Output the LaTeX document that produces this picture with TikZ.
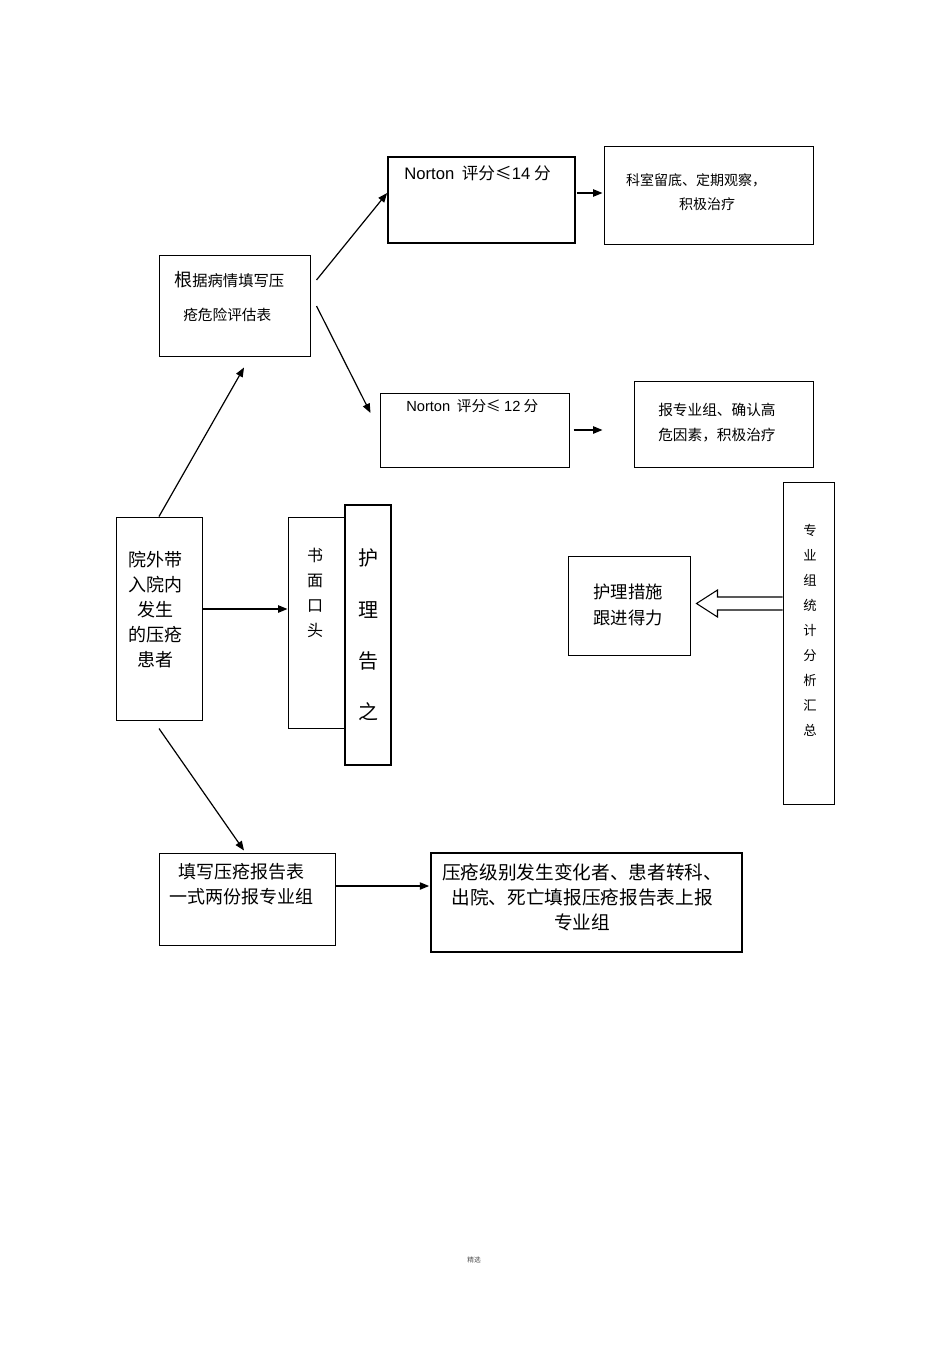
\documentclass[tikz,border=0pt]{standalone}
\usepackage{fontspec}
\setmainfont{Liberation Sans}
\newfontfamily\cjk{Noto Sans CJK SC}
\newfontfamily\lat{Liberation Sans}
\usetikzlibrary{arrows.meta,calc}

\begin{document}
\begin{tikzpicture}[x=0.75pt,y=-0.75pt,
  box/.style 2 args={draw,line width=0.75pt,inner sep=0pt,minimum width=#1*0.75pt,minimum height=#2*0.75pt},
  heavy/.style={line width=1.3pt},
  txt/.style={font=\cjk,inner sep=0pt},
  arr/.style={line width=0.9pt,-{Triangle[length=7pt,width=5.5pt]}}]
  \useasboundingbox (0,0) rectangle (950,1345);

  % boxes
  \node[box={151}{101}] (assess) at (234.5,305.5) {};
  \node[box={187}{86},heavy] (n14) at (481.5,200) {};
  \node[box={209}{98}] (r14) at (708.5,195) {};
  \node[box={189}{74}] (n12) at (474.5,430) {};
  \node[box={179}{86}] (r12) at (723.5,424) {};
  \node[box={86}{203}] (patient) at (159,618.5) {};
  \node[box={57}{211}] (write) at (316.5,622.5) {};
  \node[box={46}{260},heavy,fill=white] (notify) at (368,635) {};
  \node[box={122}{99}] (follow) at (629,605.5) {};
  \node[box={51}{322}] (stats) at (808.5,643) {};
  \node[box={176}{92}] (report) at (247,899) {};
  \node[box={311}{99},heavy] (change) at (586.5,902.5) {};

  % texts
  \node[txt,anchor=west,font=\cjk\fontsize{11.5}{14}\selectfont] (assessA) at (174,280) {{\fontsize{13.5}{16}\selectfont 根}据病情填写压};
  \node[txt,anchor=west,font=\cjk\fontsize{11}{14}\selectfont] (assessB) at (183,315) {疮危险评估表};
  \node[txt,anchor=west,font=\cjk\fontsize{12.5}{15}\selectfont] (n14t) at (404,173) {{\lat Norton}\ \ 评分≤{\lat 14} 分};
  \node[txt,anchor=west,font=\cjk\fontsize{11}{14}\selectfont] (n12t) at (406,406) {{\lat Norton}\ \ 评分≤ {\lat 12} 分};
  \node[txt,font=\cjk\fontsize{10.5}{18}\selectfont] (r14a) at (696,180) {科室留底、定期观察，};
  \node[txt,font=\cjk\fontsize{10.5}{18}\selectfont] (r14b) at (707,204) {积极治疗};
  \node[txt,anchor=west,font=\cjk\fontsize{11}{18}\selectfont] (r12a) at (658,410) {报专业组、确认高};
  \node[txt,anchor=west,font=\cjk\fontsize{11}{18}\selectfont] (r12b) at (658,435) {危因素，积极治疗};
  \node[txt,align=center,font=\cjk\fontsize{13.5}{18.75}\selectfont] (patientT) at (155,610) {院外带\\入院内\\发生\\的压疮\\患者};
  \node[txt,align=center,font=\cjk\fontsize{12}{18.75}\selectfont] (writeT) at (315,592.5) {书\\面\\口\\头};
  \node[txt,align=center,font=\cjk\fontsize{15}{38.6}\selectfont] (notifyT) at (368,635) {护\\理\\告\\之};
  \node[txt,align=center,font=\cjk\fontsize{13}{19.5}\selectfont] (followT) at (628,605) {护理措施\\跟进得力};
  \node[txt,align=center,font=\cjk\fontsize{10}{18.75}\selectfont] (statsT) at (810,630) {专\\业\\组\\统\\计\\分\\析\\汇\\总};
  \node[txt,align=center,font=\cjk\fontsize{13.5}{18.75}\selectfont] (reportT) at (241,884.5) {填写压疮报告表\\一式两份报专业组};
  \node[txt,align=center,font=\cjk\fontsize{14}{18.75}\selectfont] (changeT) at (582,897) {压疮级别发生变化者、患者转科、\\出院、死亡填报压疮报告表上报\\专业组};
  \node[txt,font=\cjk\fontsize{5}{6}\selectfont,text=black!70] (foot) at (474,1260) {精选};

  % arrows
  \draw[arr] (patient.north) -- ([shift={(9.5,11)}]assess.south);
  \draw[arr] ([shift={(6,-25.5)}]assess.east) -- ([shift={(0,-7)}]n14.west);
  \draw[arr] ([shift={(6,0.5)}]assess.east) -- ([shift={(-9,-17)}]n12.west);
  \draw[arr] ([shift={(1,-7)}]n14.east) -- ([shift={(-1,-2)}]r14.west);
  \draw[arr] ([shift={(4,0)}]n12.east) -- ([shift={(-31,6)}]r12.west);
  \draw[arr] ([shift={(0,-9.5)}]patient.east) -- ([shift={(0,-13.5)}]write.west);
  \draw[arr] ([shift={(0,8)}]patient.south) -- ([shift={(-3,-2)}]report.north);
  \draw[arr] ([shift={(0,-13)}]report.east) -- ([shift={(-1,-16.5)}]change.west);
  \draw[line width=0.8pt,fill=white] ([shift={(0,-46)}]stats.west) -- ++(-65,0) -- ++(0,-7)
    -- ++(-21,13.5) -- ++(21,13.5) -- ++(0,-7) -- ++(65,0);
\end{tikzpicture}
\end{document}
